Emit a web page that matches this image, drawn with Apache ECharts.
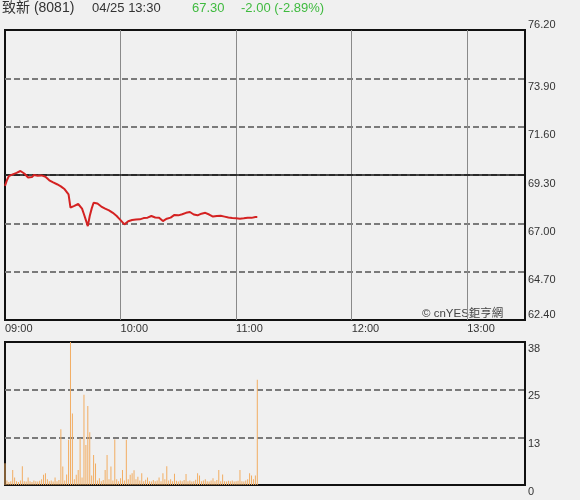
<!DOCTYPE html>
<html><head><meta charset="utf-8">
<script src="https://cdn.jsdelivr.net/npm/echarts@6/dist/echarts.min.js"></script>
<style>html,body{margin:0;padding:0;background:#f0f0f0;}#c{width:580px;height:500px;}</style>
</head><body><div id="c"></div>
<script>
// ---- data ----
const titleName = '致新 (8081)';
const titleTime = '04/25 13:30';
const titlePrice = '67.30';
const titleChange = '-2.00 (-2.89%)';
const timeLabels = ['09:00', '10:00', '11:00', '12:00', '13:00'];
const priceTicks = [62.40, 64.70, 67.00, 69.30, 71.60, 73.90, 76.20];
const volumeTicks = [0, 13, 25, 38];
const prevClose = 69.30;
// minute index from 09:00
const prices = [
 68.78,69.05,69.25,69.30,69.33,69.37,69.40,69.45,69.49,69.44,
 69.37,69.30,69.18,69.10,69.20,69.30,69.28,69.26,69.25,69.28,
 69.24,69.22,69.15,69.05,69.00,68.95,68.90,68.86,68.80,68.76,
 68.70,68.62,68.50,68.38,67.75,67.78,67.83,67.86,67.92,67.90,
 67.70,67.43,67.15,66.87,67.35,67.70,67.98,67.96,67.94,67.88,
 67.80,67.75,67.70,67.66,67.62,67.59,67.50,67.42,67.35,67.25,
 67.15,67.08,66.95,67.00,67.10,67.14,67.16,67.15,67.18,67.17,
 67.19,67.22,67.25,67.24,67.27,67.30,67.35,67.31,67.28,67.30,
 67.27,67.18,67.11,67.18,67.22,67.25,67.27,67.32,67.40,67.38,
 67.38,67.41,67.43,67.46,67.50,67.52,67.54,67.48,67.42,67.40,
 67.38,67.42,67.46,67.47,67.50,67.48,67.42,67.36,67.32,67.33,
 67.35,67.38,67.36,67.35,67.32,67.30,67.28,67.27,67.25,67.26,
 67.24,67.22,67.22,67.20,67.24,67.22,67.27,67.25,67.26,67.28,
 67.30,67.30
];
const volumes = [
 5.8,1.2,0.8,1.0,4.0,2.0,1.0,0.8,1.2,5.0,
 1.0,0.9,2.0,1.0,0.8,1.2,1.0,0.9,1.1,1.5,
 2.7,3.1,1.5,1.0,1.2,0.9,2.0,1.0,1.3,14.8,
 4.9,1.2,2.8,12.0,38.0,19.0,1.5,2.7,4.0,12.4,
 2.0,24.0,10.6,21.0,14.0,2.5,8.0,5.7,1.2,1.8,
 1.0,1.3,4.0,8.0,1.5,4.9,1.2,12.1,1.5,1.0,
 1.8,4.0,1.2,12.0,1.5,2.7,3.1,3.9,1.5,2.2,
 1.2,3.1,1.0,1.4,2.0,1.0,0.9,1.3,1.0,1.2,
 2.0,1.0,3.1,1.5,5.0,1.2,1.5,1.0,3.0,1.1,
 0.9,1.2,1.0,1.3,2.9,1.0,1.2,0.9,1.0,1.4,
 3.1,2.5,1.0,1.2,1.5,1.0,0.9,1.2,1.8,1.0,
 1.3,4.0,1.0,2.8,1.0,0.9,1.1,1.0,1.2,0.9,
 1.0,1.1,4.0,1.0,0.9,1.2,1.5,3.1,2.5,1.5,
 2.5,28.0
];
// ---- chart ----
const priceData = prices.map((p, i) => [i, p]);
const volData = volumes.map((v, i) => [i, v]);
const font = 'Arial, "Liberation Sans", "Noto Sans CJK TC", sans-serif';
const dashed = {color: '#7a7a7a', type: [6, 3], width: 2};
const chart = echarts.init(document.getElementById('c'));
chart.setOption({
  backgroundColor: '#f0f0f0',
  animation: false,
  grid: [
    {left: 5, right: 55, top: 30, height: 290, show: true, borderColor: '#111', borderWidth: 2, backgroundColor: 'transparent'},
    {left: 5, right: 55, top: 342, height: 143, show: true, borderColor: '#111', borderWidth: 2, backgroundColor: 'transparent'}
  ],
  xAxis: [
    {type: 'value', gridIndex: 0, min: 0, max: 270, interval: 60,
     axisLine: {show: false}, axisTick: {show: false},
     splitLine: {show: true, showMinLine: false, showMaxLine: false, lineStyle: {color: '#8a8a8a', width: 1}},
     axisLabel: {show: true, align: 'left', margin: 3, color: '#333', fontSize: 11, fontFamily: font,
       showMaxLabel: false,
       formatter: v => (v % 60 === 0 && v / 60 < timeLabels.length) ? timeLabels[v / 60] : ''}},
    {type: 'value', gridIndex: 1, min: 0, max: 270, interval: 60,
     axisLine: {show: false}, axisTick: {show: false}, axisLabel: {show: false}, splitLine: {show: false}}
  ],
  yAxis: [
    {type: 'value', gridIndex: 0, position: 'right', min: priceTicks[0], max: priceTicks[priceTicks.length - 1], interval: 2.3,
     axisLine: {show: false}, axisTick: {show: false},
     splitLine: {show: true, showMinLine: false, showMaxLine: false, lineStyle: dashed},
     axisLabel: {margin: 3, color: '#333', fontSize: 11, fontFamily: font, verticalAlign: 'top', padding: [3, 0, 0, 0],
       verticalAlignMaxLabel: 'bottom', verticalAlignMinLabel: 'bottom',
       formatter: v => v.toFixed(2)}},
    {type: 'value', gridIndex: 1, position: 'right', min: 0, max: volumeTicks[volumeTicks.length - 1], interval: 38 / 3,
     axisLine: {show: false}, axisTick: {show: false},
     splitLine: {show: true, showMinLine: false, showMaxLine: false, lineStyle: dashed},
     axisLabel: {margin: 3, color: '#333', fontSize: 11, fontFamily: font, verticalAlign: 'top', padding: [1, 0, 0, 0],
       formatter: v => String(Math.round(v))}}
  ],
  series: [
    {type: 'line', xAxisIndex: 0, yAxisIndex: 0, data: priceData, showSymbol: false, symbol: 'none',
     lineStyle: {color: '#d42222', width: 2}, z: 5,
     markLine: {silent: true, symbol: 'none', label: {show: false},
       lineStyle: {color: '#111', type: 'solid', width: 1.5}, data: [{yAxis: prevClose}]}},
    {type: 'bar', xAxisIndex: 1, yAxisIndex: 1, data: volData, barWidth: 1,
     itemStyle: {color: '#f2ad62'}}
  ],
  graphic: [
    {type: 'text', left: 2, top: 1, style: {text: titleName, fill: '#333', font: '14px ' + font}},
    {type: 'text', left: 92, top: 2, style: {text: titleTime, fill: '#333', font: '13px ' + font}},
    {type: 'text', left: 192, top: 2, style: {text: titlePrice, fill: '#3fba3f', font: '13px ' + font}},
    {type: 'text', left: 241, top: 2, style: {text: titleChange, fill: '#3fba3f', font: '13px ' + font}},
    {type: 'text', left: 422, top: 308, style: {text: '© cnYES鉅亨網', fill: '#444', font: '11.5px ' + font}}
  ]
});
</script></body></html>
